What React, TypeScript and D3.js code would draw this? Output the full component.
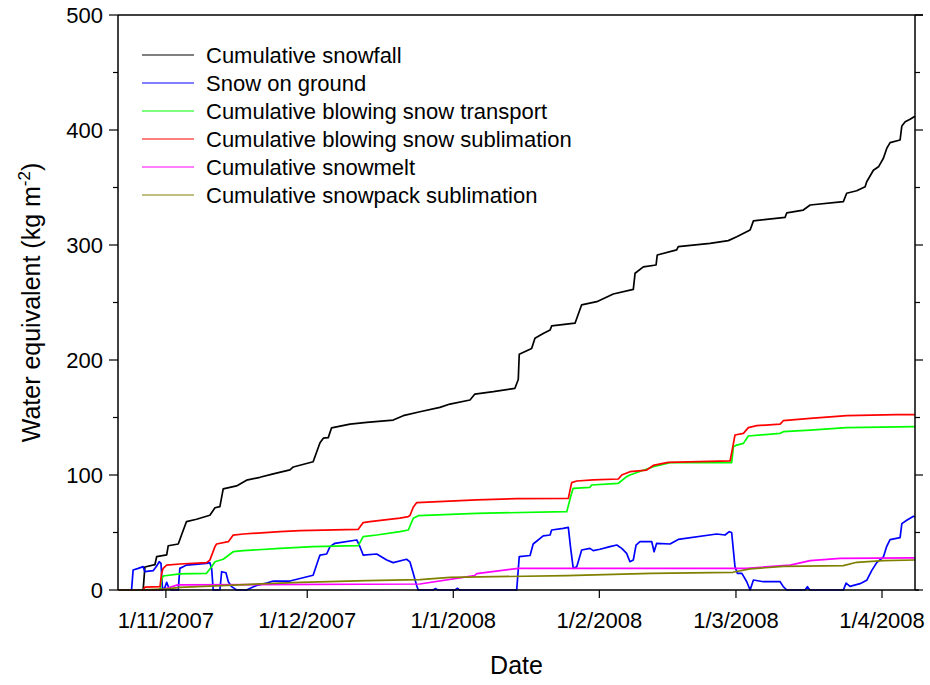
import React from 'react';
import * as d3 from 'd3';

type Pt = [string, number];

const snowfall: Pt[] = [
  ['2007-10-21 20', 0], ['2007-10-27 04', 0], ['2007-10-27 13', 20], ['2007-10-29 16', 22],
  ['2007-10-30 01', 29], ['2007-11-01 04', 30.5], ['2007-11-01 12', 38.5], ['2007-11-03 15', 40],
  ['2007-11-04 08', 48], ['2007-11-05 09', 59.5], ['2007-11-07 12', 61.5], ['2007-11-10 08', 65],
  ['2007-11-11 10', 71.5], ['2007-11-12 11', 72.5], ['2007-11-13 04', 88], ['2007-11-16 00', 90.5],
  ['2007-11-18 03', 95.5], ['2007-11-20 23', 98], ['2007-11-23 19', 101], ['2007-11-27 08', 104.5],
  ['2007-11-28 01', 107], ['2007-12-02 06', 111.5], ['2007-12-03 17', 128], ['2007-12-04 10', 132],
  ['2007-12-05 11', 132.5], ['2007-12-06 04', 141], ['2007-12-10 02', 144.3], ['2007-12-13 15', 145.7],
  ['2007-12-19 06', 147.8], ['2007-12-21 09', 151.6], ['2007-12-24 22', 155], ['2007-12-29 04', 158.8],
  ['2007-12-31 07', 161.7], ['2008-01-04 13', 165.2], ['2008-01-05 14', 170.4], ['2008-01-09 12', 172.5],
  ['2008-01-14 02', 175.4], ['2008-01-14 19', 183], ['2008-01-15 00', 205], ['2008-01-17 15', 210],
  ['2008-01-18 08', 219], ['2008-01-20 02', 223], ['2008-01-21 13', 226], ['2008-01-21 21', 229.6],
  ['2008-01-26 20', 232], ['2008-01-28 06', 248], ['2008-01-31 11', 250.7], ['2008-02-03 23', 257.4],
  ['2008-02-08 05', 261.4], ['2008-02-08 14', 275.4], ['2008-02-10 08', 281], ['2008-02-13 01', 282.6],
  ['2008-02-13 07', 291.3], ['2008-02-17 10', 295.7], ['2008-02-17 18', 298.6], ['2008-02-24 12', 301.4],
  ['2008-02-28 09', 303.8], ['2008-03-01 04', 307.2], ['2008-03-04 00', 313], ['2008-03-04 17', 321],
  ['2008-03-11 10', 324], ['2008-03-11 19', 328], ['2008-03-15 07', 330.4], ['2008-03-16 18', 334.8],
  ['2008-03-23 19', 337.7], ['2008-03-24 12', 345], ['2008-03-26 15', 347.2], ['2008-03-28 10', 350.7],
  ['2008-03-28 18', 355], ['2008-03-30 04', 365], ['2008-03-31 06', 368], ['2008-04-01 07', 375.4],
  ['2008-04-02 00', 384], ['2008-04-02 17', 389], ['2008-04-04 20', 391.3], ['2008-04-05 05', 403.5],
  ['2008-04-05 22', 407.2], ['2008-04-06 23', 409.3], ['2008-04-08 00', 412],
];

const snowOnGround: Pt[] = [
  ['2007-10-21 20', 0], ['2007-10-24 17', 0], ['2007-10-25 01', 17.4], ['2007-10-26 03', 18.8],
  ['2007-10-27 04', 20.3], ['2007-10-27 13', 15.9], ['2007-10-29 07', 16.8], ['2007-10-30 01', 20.9],
  ['2007-10-30 14', 24.6], ['2007-10-30 23', 23.2], ['2007-10-31 07', 0], ['2007-10-31 19', 2.3],
  ['2007-11-01 04', 6.7], ['2007-11-01 17', 0.9], ['2007-11-02 05', 0], ['2007-11-03 15', 0],
  ['2007-11-03 23', 18.8], ['2007-11-04 16', 20.3], ['2007-11-05 09', 21.7], ['2007-11-09 15', 23.2],
  ['2007-11-10 08', 23.8], ['2007-11-10 17', 18.8], ['2007-11-11 01', 0], ['2007-11-12 11', 0],
  ['2007-11-12 20', 15.9], ['2007-11-13 18', 15], ['2007-11-14 06', 7.2], ['2007-11-14 23', 2.9],
  ['2007-11-16 00', 0], ['2007-11-18 03', 0], ['2007-11-20 06', 4], ['2007-11-22 09', 6],
  ['2007-11-23 19', 7.8], ['2007-11-27 08', 7.8], ['2007-12-02 06', 12.8], ['2007-12-03 08', 26],
  ['2007-12-03 17', 30.4], ['2007-12-05 03', 31.3], ['2007-12-05 20', 37.7], ['2007-12-06 21', 40.6],
  ['2007-12-11 12', 43.5], ['2007-12-12 01', 39.1], ['2007-12-12 21', 30.4], ['2007-12-15 18', 31.3],
  ['2007-12-17 21', 26.1], ['2007-12-19 06', 23.8], ['2007-12-22 02', 26.7], ['2007-12-22 19', 24.5],
  ['2007-12-23 12', 14.5], ['2007-12-24 06', 3.5], ['2007-12-24 14', 0], ['2007-12-27 17', 0],
  ['2007-12-28 06', 1.2], ['2007-12-28 18', 0], ['2008-01-01 10', 0], ['2008-01-01 20', 1.5],
  ['2008-01-02 08', 0], ['2008-01-14 11', 0], ['2008-01-15 00', 29], ['2008-01-17 07', 30],
  ['2008-01-17 23', 40], ['2008-01-20 02', 47], ['2008-01-21 13', 47.8], ['2008-01-21 21', 52.2],
  ['2008-01-24 08', 53.6], ['2008-01-25 10', 54.5], ['2008-01-25 22', 36.2], ['2008-01-26 11', 18.8],
  ['2008-01-27 05', 20.3], ['2008-01-28 06', 34.8], ['2008-01-30 00', 36.2], ['2008-01-30 17', 34.2],
  ['2008-02-01 03', 35.4], ['2008-02-03 06', 37.7], ['2008-02-04 17', 39.1], ['2008-02-05 18', 36.2],
  ['2008-02-06 19', 31.9], ['2008-02-07 12', 24.6], ['2008-02-08 05', 26.1], ['2008-02-08 19', 39.1],
  ['2008-02-09 15', 42], ['2008-02-12 03', 42], ['2008-02-12 15', 33.3], ['2008-02-13 04', 40.6],
  ['2008-02-16 00', 40], ['2008-02-17 18', 44], ['2008-02-25 22', 48.7], ['2008-02-27 16', 47.8],
  ['2008-02-28 14', 50.7], ['2008-02-29 02', 50], ['2008-02-29 19', 20.3], ['2008-03-01 07', 14.5],
  ['2008-03-02 06', 14.5], ['2008-03-03 07', 7.2], ['2008-03-04 00', 0], ['2008-03-04 17', 8.7],
  ['2008-03-06 20', 7.2], ['2008-03-10 09', 7.2], ['2008-03-11 01', 2.9], ['2008-03-11 19', 0],
  ['2008-03-15 16', 0], ['2008-03-16 04', 2.9], ['2008-03-16 16', 0], ['2008-03-23 19', 0],
  ['2008-03-24 09', 6], ['2008-03-25 05', 3.2], ['2008-03-27 08', 5.5], ['2008-03-28 18', 8.4],
  ['2008-03-29 20', 17.1], ['2008-03-30 21', 23.8], ['2008-04-01 07', 28.7], ['2008-04-02 00', 38],
  ['2008-04-02 17', 43.8], ['2008-04-04 20', 45.5], ['2008-04-05 05', 57.7], ['2008-04-06 06', 60.6],
  ['2008-04-07 16', 64.1], ['2008-04-08 00', 63.5],
];

const blowingTransport: Pt[] = [
  ['2007-10-21 20', 0], ['2007-10-30 18', 0], ['2007-10-31 02', 8.7], ['2007-10-31 10', 12.2],
  ['2007-11-03 23', 14], ['2007-11-09 15', 14.5], ['2007-11-10 17', 20.3], ['2007-11-11 10', 24.6],
  ['2007-11-13 04', 26.7], ['2007-11-15 07', 33.3], ['2007-11-17 10', 34.2], ['2007-11-25 05', 36.2],
  ['2007-12-02 06', 37.7], ['2007-12-11 20', 38.6], ['2007-12-12 21', 46.4], ['2007-12-15 18', 47.8],
  ['2007-12-20 16', 50.7], ['2007-12-22 11', 52.2], ['2007-12-23 12', 62.3], ['2007-12-24 14', 64.6],
  ['2008-01-05 23', 66.7], ['2008-01-25 02', 68.1], ['2008-01-25 22', 81.2], ['2008-01-26 11', 88.4],
  ['2008-01-30 00', 89.3], ['2008-01-30 09', 91.3], ['2008-02-05 01', 92.8], ['2008-02-06 19', 98.6],
  ['2008-02-07 12', 100], ['2008-02-12 11', 107.2], ['2008-02-16 00', 110.7], ['2008-02-29 02', 110.7],
  ['2008-02-29 11', 124.6], ['2008-03-01 04', 126], ['2008-03-02 14', 127.5], ['2008-03-03 15', 133.9],
  ['2008-03-10 09', 136.2], ['2008-03-11 01', 137.7], ['2008-03-16 18', 139.1], ['2008-03-24 12', 141.2],
  ['2008-04-08 00', 142],
];

const blowingSublimation: Pt[] = [
  ['2007-10-21 20', 0], ['2007-10-27 04', 0], ['2007-10-27 13', 2.5], ['2007-10-30 18', 3],
  ['2007-10-31 02', 14.5], ['2007-10-31 10', 18.8], ['2007-11-01 04', 21.7], ['2007-11-03 23', 22.6],
  ['2007-11-09 15', 23.8], ['2007-11-10 08', 26], ['2007-11-11 10', 37.7], ['2007-11-11 18', 40],
  ['2007-11-14 06', 42], ['2007-11-15 07', 47.8], ['2007-11-17 10', 48.7], ['2007-11-25 05', 50.7],
  ['2007-11-29 11', 51.6], ['2007-12-11 20', 52.8], ['2007-12-12 21', 58.6], ['2007-12-14 07', 59.4],
  ['2007-12-20 16', 62.5], ['2007-12-22 11', 63.8], ['2007-12-22 20', 65], ['2007-12-23 12', 72],
  ['2007-12-24 06', 76], ['2008-01-05 23', 78.3], ['2008-01-14 11', 79.4], ['2008-01-25 10', 79.7],
  ['2008-01-26 03', 93.4], ['2008-01-27 05', 94.8], ['2008-01-30 17', 95.7], ['2008-02-05 01', 96.5],
  ['2008-02-05 18', 100], ['2008-02-07 12', 102.9], ['2008-02-11 01', 104.3], ['2008-02-12 11', 108.3],
  ['2008-02-15 14', 111], ['2008-02-28 18', 112.2], ['2008-02-29 08', 124.6], ['2008-02-29 19', 134.8],
  ['2008-03-02 14', 136.2], ['2008-03-03 15', 141.2], ['2008-03-05 10', 142.9], ['2008-03-10 09', 144.3],
  ['2008-03-11 01', 147.2], ['2008-03-16 18', 149.3], ['2008-03-24 12', 151.6], ['2008-04-04 03', 152.5],
  ['2008-04-08 00', 152.5],
];

const snowmelt: Pt[] = [
  ['2007-10-21 20', 0], ['2007-10-31 00', 0], ['2007-11-03 12', 4.5], ['2007-12-24 22', 5.2],
  ['2008-01-05 12', 12.5], ['2008-01-06 00', 14.2], ['2008-01-14 19', 18.8], ['2008-03-03 05', 18.8],
  ['2008-03-12 12', 21.7], ['2008-03-16 18', 25.5], ['2008-03-23 02', 27.5], ['2008-04-08 00', 28],
];

const snowpackSublimation: Pt[] = [
  ['2007-10-21 20', 0], ['2007-10-26 02', 0], ['2007-11-01 04', 0.9], ['2007-11-03 23', 2.3],
  ['2007-11-15 07', 4.3], ['2007-11-29 11', 6.7], ['2007-12-13 15', 8.1], ['2007-12-24 22', 9],
  ['2007-12-31 07', 11], ['2008-01-25 02', 12.5], ['2008-02-12 00', 14.5], ['2008-02-29 08', 15.4],
  ['2008-03-04 00', 18.3], ['2008-03-11 01', 20.6], ['2008-03-23 19', 21.2], ['2008-03-26 15', 24.1],
  ['2008-04-01 07', 25.5], ['2008-04-08 00', 26.1],
];

const seriesNames = [
  'Cumulative snowfall',
  'Snow on ground',
  'Cumulative blowing snow transport',
  'Cumulative blowing snow sublimation',
  'Cumulative snowmelt',
  'Cumulative snowpack sublimation',
];
const seriesColors = ['#000000', '#0000ff', '#00ff00', '#ff0000', '#ff00ff', '#808000'];
const seriesData = [snowfall, snowOnGround, blowingTransport, blowingSublimation, snowmelt, snowpackSublimation];

const xTickDates = ['2007-11-01 00', '2007-12-01 00', '2008-01-01 00', '2008-02-01 00', '2008-03-01 00', '2008-04-01 00'];
const xDomain = ['2007-10-21 20', '2008-04-08 00'];
const yMajorTicks = [0, 100, 200, 300, 400, 500];
const yMinorTicks = [50, 150, 250, 350, 450];

const FONT = "Arial, 'Liberation Sans', Helvetica, sans-serif";

export default function App() {
  const W = 930, H = 685;
  const L = 118, R = 915, T = 15, B = 590;
  const parse = d3.timeParse('%Y-%m-%d %H');
  const fmt = d3.timeFormat('%-d/%-m/%Y');
  const x = d3.scaleTime().domain(xDomain.map(s => parse(s) as Date)).range([L, R]);
  const y = d3.scaleLinear().domain([0, 500]).range([B, T]);
  const line = d3.line<Pt>().x(d => x(parse(d[0]) as Date)).y(d => y(d[1]));

  return (
    <svg width={W} height={H} style={{ position: 'absolute', left: 0, top: 0, background: '#fff' }}
      fontFamily={FONT}>
      <rect x={0} y={0} width={W} height={H} fill="#fff" />
      {seriesData.map((s, i) => (
        <path key={i} d={line(s) || ''} fill="none" stroke={seriesColors[i]} strokeWidth={1.7}
          strokeLinejoin="round" />
      ))}
      <line x1={L} x2={R + 8} y1={T} y2={T} stroke="#000" strokeWidth={1.5} />
      <line x1={L} x2={L} y1={T} y2={B} stroke="#000" strokeWidth={1.5} />
      <line x1={R} x2={R} y1={T} y2={B} stroke="#000" strokeWidth={1.5} />
      <line x1={L} x2={R + 4} y1={B} y2={B} stroke="#000" strokeWidth={1.5} />
      {yMajorTicks.map(v => (
        <g key={'ym' + v}>
          <line x1={L - 9} x2={L} y1={y(v)} y2={y(v)} stroke="#000" strokeWidth={1.2} />
          <line x1={R} x2={R + 8} y1={y(v)} y2={y(v)} stroke="#000" strokeWidth={1.2} />
          <text x={L - 15} y={y(v) + 8} textAnchor="end" fontSize={22} fill="#000">{v}</text>
        </g>
      ))}
      {yMinorTicks.map(v => (
        <g key={'yn' + v}>
          <line x1={L - 5} x2={L} y1={y(v)} y2={y(v)} stroke="#000" strokeWidth={1.2} />
          <line x1={R} x2={R + 5} y1={y(v)} y2={y(v)} stroke="#000" strokeWidth={1.2} />
        </g>
      ))}
      {xTickDates.map(s => {
        const dt = parse(s) as Date;
        const px = x(dt);
        return (
          <g key={s}>
            <line x1={px} x2={px} y1={B} y2={B + 8} stroke="#000" strokeWidth={1.2} />
            <text x={px} y={628} textAnchor="middle" fontSize={22} fill="#000">{fmt(dt)}</text>
          </g>
        );
      })}
      <text x={(L + R) / 2} y={674} textAnchor="middle" fontSize={25} fill="#000">Date</text>
      <text transform={`translate(40,${(T + B) / 2}) rotate(-90)`} textAnchor="middle" fontSize={25} fill="#000">
        Water equivalent (kg m<tspan dy={-10} fontSize={17}>-2</tspan><tspan dy={10}>)</tspan>
      </text>
      {seriesNames.map((n, i) => {
        const cy = 55 + i * 28;
        return (
          <g key={n}>
            <line x1={142} x2={194} y1={cy} y2={cy} stroke={seriesColors[i]} strokeWidth={1.2} />
            <text x={206} y={cy + 8} fontSize={22} fill="#000">{n}</text>
          </g>
        );
      })}
    </svg>
  );
}
